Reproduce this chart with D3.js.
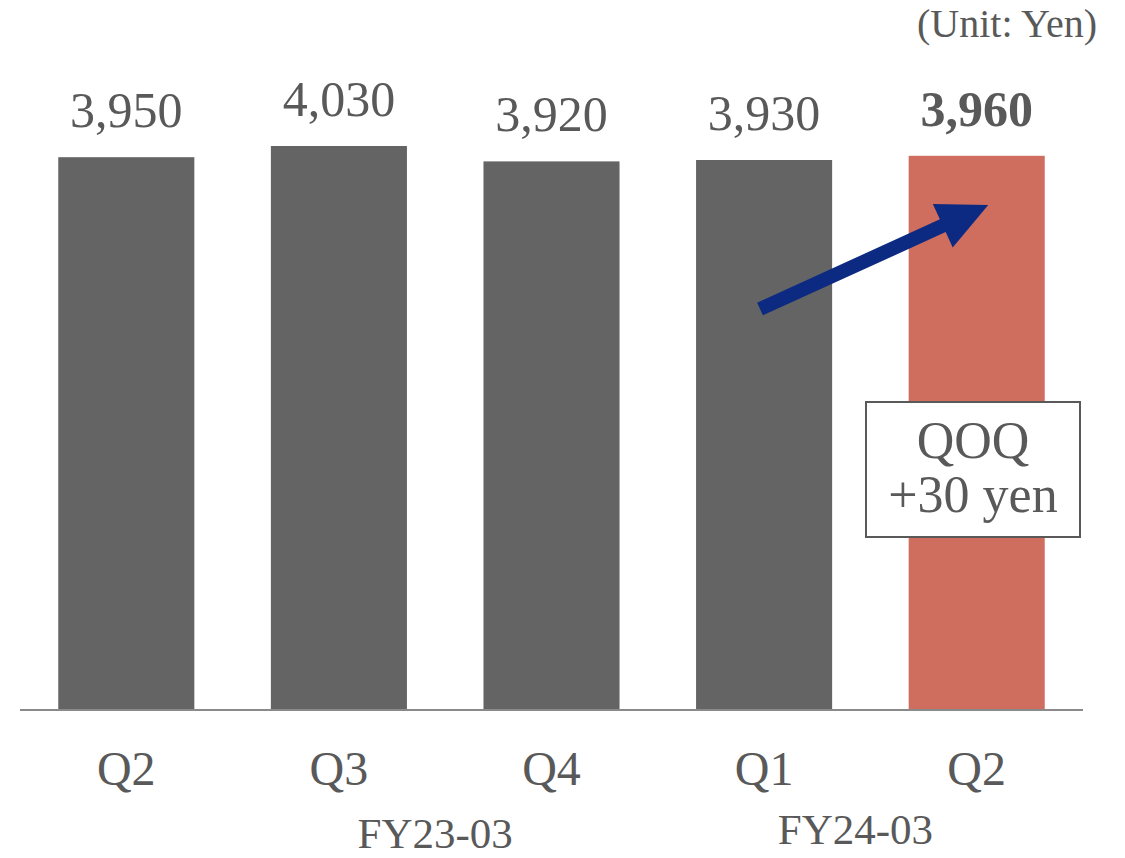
<!DOCTYPE html>
<html>
<head>
<meta charset="utf-8">
<script src="https://cdn.jsdelivr.net/npm/d3@7"></script>
<style>
  html, body { margin: 0; padding: 0; background: #fff; }
  svg { display: block; }
  text { font-family: "Liberation Serif", "DejaVu Serif", serif; fill: #595959; }
</style>
</head>
<body>
<svg id="chart" width="1125" height="858"></svg>
<script>
const categories = ["Q2", "Q3", "Q4", "Q1", "Q2"];
const values = [3950, 4030, 3920, 3930, 3960];
const valueLabels = ["3,950", "4,030", "3,920", "3,930", "3,960"];
const fiscalYears = ["FY23-03", "FY24-03"];
const unitLabel = "(Unit: Yen)";
const annotationLines = ["QOQ", "+30 yen"];

const svg = d3.select("#chart");
const baseY = 710;

const x = d3.scaleBand()
  .domain(d3.range(categories.length))
  .range([20, 1083])
  .paddingInner(0.36)
  .paddingOuter(0.18);
const y = d3.scaleLinear().domain([0, 4030]).range([baseY, 146]);
const bw = x.bandwidth();
const last = values.length - 1;

// bars
svg.append("g").selectAll("rect")
  .data(values)
  .join("rect")
  .attr("x", (d, i) => x(i))
  .attr("y", d => y(d))
  .attr("width", bw)
  .attr("height", d => baseY - y(d))
  .attr("fill", (d, i) => i === last ? "#cf6e5f" : "#646464");

// axis line
svg.append("line")
  .attr("x1", 20).attr("x2", 1083)
  .attr("y1", baseY).attr("y2", baseY)
  .attr("stroke", "#8a8a8a").attr("stroke-width", 2);

// value labels
svg.append("g").selectAll("text")
  .data(values)
  .join("text")
  .attr("x", (d, i) => x(i) + bw / 2)
  .attr("y", d => y(d) - 30)
  .attr("text-anchor", "middle")
  .attr("font-size", 50)
  .attr("font-weight", (d, i) => i === last ? "bold" : "normal")
  .text((d, i) => valueLabels[i]);

// category labels
svg.append("g").selectAll("text")
  .data(categories)
  .join("text")
  .attr("x", (d, i) => x(i) + bw / 2)
  .attr("y", 785)
  .attr("text-anchor", "middle")
  .attr("font-size", 48)
  .text(d => d);

// fiscal year labels
const fyPos = [
  { x: (x(1) + x(2) + bw) / 2 - 10, y: 848 },
  { x: (x(3) + x(4) + bw) / 2 - 15, y: 844 }
];
svg.append("g").selectAll("text")
  .data(fiscalYears)
  .join("text")
  .attr("x", (d, i) => fyPos[i].x)
  .attr("y", (d, i) => fyPos[i].y)
  .attr("text-anchor", "middle")
  .attr("font-size", 43)
  .text(d => d);

// unit label
svg.append("text")
  .attr("x", 1097).attr("y", 37)
  .attr("text-anchor", "end")
  .attr("font-size", 40)
  .text(unitLabel);

// arrow
const x0 = x(3) + bw * 0.47, y0 = 309;
const x1 = x(4) + bw * 0.585, y1 = 205;
const ang = Math.atan2(y1 - y0, x1 - x0);
const len = Math.hypot(x1 - x0, y1 - y0);
const headLen = 50, headHalf = 24, shaftHalf = 7;
const arrowPts = [
  [0, -shaftHalf], [len - headLen, -shaftHalf], [len - headLen, -headHalf],
  [len, 0], [len - headLen, headHalf], [len - headLen, shaftHalf], [0, shaftHalf]
];
svg.append("polygon")
  .attr("points", arrowPts.map(p => p.join(",")).join(" "))
  .attr("transform", `translate(${x0},${y0}) rotate(${ang * 180 / Math.PI})`)
  .attr("fill", "#0d2a82");

// annotation box
const bx = 866, by = 402, bW = 214, bH = 135;
svg.append("rect")
  .attr("x", bx).attr("y", by).attr("width", bW).attr("height", bH)
  .attr("fill", "#fff").attr("stroke", "#595959").attr("stroke-width", 2);
svg.append("g").selectAll("text")
  .data(annotationLines)
  .join("text")
  .attr("x", bx + bW / 2)
  .attr("y", (d, i) => [458, 512][i])
  .attr("text-anchor", "middle")
  .attr("font-size", 52)
  .text(d => d);
</script>
</body>
</html>
